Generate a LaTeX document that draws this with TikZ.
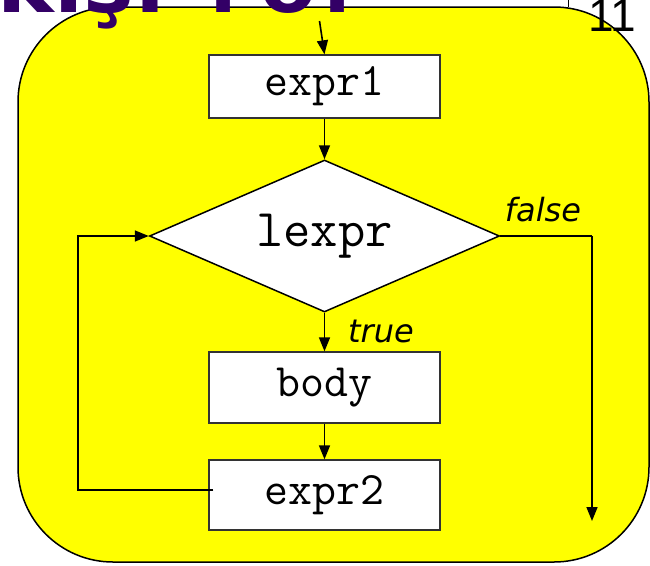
\documentclass[tikz,border=0pt]{standalone}
\usepackage{fontspec}
\setmainfont{DejaVu Sans}
\newfontfamily\codefont{Liberation Mono}
\newfontfamily\numfont{Liberation Sans}
\usetikzlibrary{shapes.geometric,arrows.meta}
\definecolor{titlepurple}{RGB}{51,0,102}
\definecolor{slideyellow}{RGB}{255,255,0}
\begin{document}
\begin{tikzpicture}[x=1pt,y=-1pt,
  panel/.style={draw=black,line width=1.5pt,fill=slideyellow,rounded corners=95pt},
  flowbox/.style={draw=black!80,line width=1.3pt,fill=white,minimum width=231pt,inner sep=0pt,
    font=\ttfamily\fontsize{46.5}{46.5}\selectfont},
  decision/.style={diamond,draw=black,line width=1.5pt,fill=white,aspect=2.3,
    minimum width=350pt,minimum height=152pt,inner sep=0pt,
    font=\ttfamily\fontsize{53}{53}\selectfont},
  conn/.style={line width=1.6pt,-{Triangle[length=14pt,width=11pt]}},
  plain/.style={line width=1.6pt},
  branchlabel/.style={font=\itshape\fontsize{32}{32}\selectfont,inner sep=0pt},
  titletext/.style={text=titlepurple,inner sep=0pt}]
\useasboundingbox (0,0) rectangle (650,565);
\clip (0,0) rectangle (650,565);
% yellow panel
\draw[panel] (18,7) rectangle (649,562);
% slide number
\draw[line width=1pt] (568,0) -- (568,7);
\node[anchor=base west,inner sep=0pt,font=\numfont\fontsize{46}{46}\selectfont] (slideno) at (588,31) {11};
% title (cut off at the top)
\node[titletext,anchor=base east,font=\bfseries\fontsize{85}{85}\selectfont] (title1) at (168,12) {Akış:};
\node[titletext,anchor=base west,font=\codefont\bfseries\fontsize{100}{100}\selectfont] (title2) at (198,12) {for};
% flowchart
\node[flowbox,minimum height=63pt] (expr1) at (324.5,86.5) {expr1};
\node[decision] (cond) at (324.5,236) {lexpr};
\node[flowbox,minimum height=71pt] (body) at (324.5,387.5) {body};
\node[flowbox,minimum height=70pt] (expr2) at (324.5,495) {expr2};
\coordinate (start) at (319.5,21);
\coordinate (loopbot) at (78,490);
\coordinate (falsecorner) at (592,236);
\coordinate (falseend) at (592,521);
\draw[conn] (start) -- (expr1.north);
\draw[conn] (expr1.south) -- (cond.north);
\draw[conn] (cond.south) -- (body.north);
\draw[conn] (body.south) -- (expr2.north);
\draw[conn] ([xshift=5pt,yshift=5pt]expr2.west) -- (loopbot) |- (cond.west);
\draw[plain] (cond.east) -- (falsecorner);
\draw[conn] (falsecorner) -- (falseend);
\node[branchlabel] (falselbl) at (543,210) {false};
\node[branchlabel] (truelbl) at (381,331) {true};
\end{tikzpicture}
\end{document}
